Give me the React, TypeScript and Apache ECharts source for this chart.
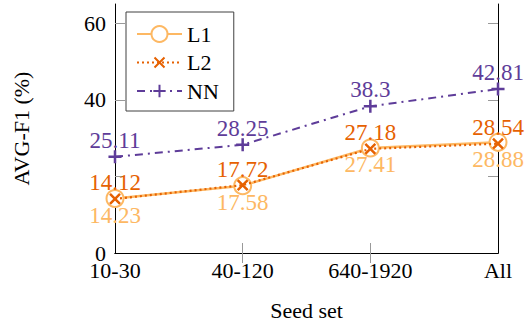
import React, { useEffect, useRef } from "react";
import * as echarts from "echarts";

const categories = ["10-30", "40-120", "640-1920", "All"];
const l1Values = [14.23, 17.58, 27.41, 28.88];
const l2Values = [14.12, 17.72, 27.18, 28.54];
const nnValues = [25.11, 28.25, 38.3, 42.81];
const yTickValues = [20, 40, 60];
const yLabelValues = [0, 40, 60];

const C_L1 = "#fdb863";
const C_L2 = "#e66101";
const C_NN = "#5e3c99";
const FONT = "'Liberation Serif', 'Times New Roman', serif";

// cross and plus glyphs with transparent padding (bare move-to points) so the
// legend icon renders them smaller than the circle
const CROSS = "path://M-3,-3M13,13M0,0L10,10M0,10L10,0";
const PLUS = "path://M-1.5,-1.5M11.5,11.5M5,0L5,10M0,5L10,5";

export default function App() {
  const ref = useRef<HTMLDivElement>(null);
  useEffect(() => {
    if (!ref.current) return;
    const chart = echarts.init(ref.current, null, { renderer: "svg" });
    const tickStyle = { color: "#999", width: 1 };
    chart.setOption({
      animation: false,
      grid: { left: 115, right: 28, top: 4, bottom: 76 },
      legend: {
        left: 126,
        top: 12,
        orient: "vertical",
        padding: [11, 15, 9, 10],
        itemGap: 6.5,
        itemWidth: 45,
        itemHeight: 20,
        itemTextGap: 7,
        borderColor: "#404040",
        borderWidth: 1,
        borderRadius: 0,
        backgroundColor: "#fff",
        textStyle: { fontSize: 22, lineHeight: 20, fontFamily: FONT, color: "#000" },
        data: ["L1", "L2", "NN"],
      },
      xAxis: [
        {
          type: "category",
          data: categories,
          boundaryGap: false,
          name: "Seed set",
          nameLocation: "middle",
          nameGap: 46,
          nameTextStyle: { fontSize: 22, fontFamily: FONT, color: "#000" },
          axisLine: { lineStyle: { color: "#000", width: 1 } },
          axisTick: {
            inside: true,
            length: 10,
            lineStyle: tickStyle,
            interval: (i: number) => i === 1 || i === 2,
          },
          axisLabel: { fontSize: 22, fontFamily: FONT, color: "#000", margin: 6 },
          splitLine: { show: false },
        },
        {
          type: "category",
          data: categories,
          boundaryGap: false,
          position: "top",
          axisLine: { lineStyle: { color: "#000", width: 1 } },
          axisTick: {
            inside: true,
            length: 10,
            lineStyle: tickStyle,
            interval: (i: number) => i === 1 || i === 2,
          },
          axisLabel: { show: false },
          splitLine: { show: false },
        },
      ],
      yAxis: [
        {
          type: "value",
          min: 0,
          max: 65,
          interval: 20,
          name: "AVG-F1 (%)",
          nameLocation: "middle",
          nameGap: 83,
          nameTextStyle: { fontSize: 22, fontFamily: FONT, color: "#000" },
          axisLine: { show: true, lineStyle: { color: "#000", width: 1 } },
          axisTick: { show: true, inside: true, length: 10, lineStyle: tickStyle, customValues: yTickValues },
          axisLabel: { fontSize: 22, fontFamily: FONT, color: "#000", margin: 9, customValues: yLabelValues },
          splitLine: { show: false },
        },
        {
          type: "value",
          min: 0,
          max: 65,
          interval: 20,
          position: "right",
          axisLine: { show: true, lineStyle: { color: "#000", width: 1 } },
          axisTick: { show: true, inside: true, length: 10, lineStyle: tickStyle, customValues: yTickValues },
          axisLabel: { show: false },
          splitLine: { show: false },
        },
      ],
      series: [
        {
          name: "L1",
          type: "line",
          data: l1Values,
          symbol: "emptyCircle",
          symbolSize: 17,
          itemStyle: { color: C_L1, borderColor: C_L1, borderWidth: 2.5 },
          lineStyle: { color: C_L1, width: 2.5, type: "solid" },
          label: {
            show: true,
            position: "inside",
            offset: [0, 17],
            color: C_L1,
            fontSize: 23,
            fontFamily: FONT,
          },
          z: 2,
        },
        {
          name: "L2",
          type: "line",
          data: l2Values,
          symbol: CROSS,
          symbolSize: 16,
          itemStyle: { color: C_L2, borderColor: C_L2, borderWidth: 2.5 },
          lineStyle: { color: C_L2, width: 2.2, type: [2, 3] },
          label: {
            show: true,
            position: "inside",
            offset: [0, -16],
            color: C_L2,
            fontSize: 23,
            fontFamily: FONT,
          },
          z: 3,
        },
        {
          name: "NN",
          type: "line",
          data: nnValues,
          symbol: PLUS,
          symbolSize: 17,
          itemStyle: { color: C_NN, borderColor: C_NN, borderWidth: 2.5 },
          lineStyle: { color: C_NN, width: 2, type: [8, 5, 2, 5] },
          label: {
            show: true,
            position: "inside",
            offset: [0, -16.5],
            color: C_NN,
            fontSize: 23,
            fontFamily: FONT,
          },
          z: 4,
        },
      ],
    });
    return () => chart.dispose();
  }, []);
  return <div ref={ref} style={{ width: 526, height: 329, position: "absolute", left: 0, top: 0 }} />;
}
